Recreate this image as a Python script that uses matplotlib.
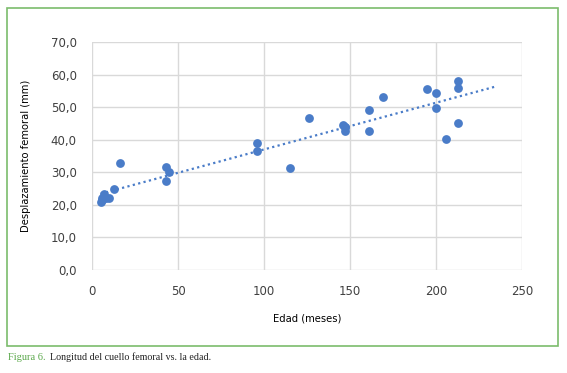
import matplotlib.pyplot as plt
import numpy as np
from matplotlib.patches import Rectangle
from matplotlib.ticker import FuncFormatter

# data
edad = [5, 6, 6, 7, 7, 8, 10, 13, 16, 43, 43, 45, 96, 96, 115, 126,
        146, 147, 147, 147, 161, 161, 169, 195, 200, 200, 206, 213, 213, 213]
desplazamiento = [21.0, 22.0, 21.5, 23.2, 22.5, 22.0, 22.0, 25.0, 33.0, 31.5, 27.2, 30.0,
                  39.0, 36.5, 31.2, 46.8, 44.6, 43.8, 42.6, 44.0, 49.0, 42.8, 53.2,
                  55.6, 54.3, 49.6, 40.1, 58.1, 56.0, 45.2]
x_ticks = [0, 50, 100, 150, 200, 250]
y_ticks = [0, 10, 20, 30, 40, 50, 60, 70]
trend_end = 234

blue = '#4a7cc8'
W, H = 567, 373
fig = plt.figure(figsize=(W/100, H/100), dpi=100)

# green frame round the chart
fig.patches.append(Rectangle((7/W, 1-346/H), 551/W, 338/H, transform=fig.transFigure,
                             fill=False, edgecolor='#7cbc6c', linewidth=1.2))

ax = fig.add_axes([92/W, 1-270/H, 430/W, 228/H])
ax.scatter(edad, desplazamiento, s=40, color=blue, zorder=3, linewidths=0)

# linear trendline, as Excel draws it
m, b = np.polyfit(edad, desplazamiento, 1)
xt = np.array([min(edad), trend_end])
ax.plot(xt, m*xt + b, linestyle=(0, (1, 1.5)), color=blue, linewidth=1.6, zorder=2)

ax.set_xlim(0, 250)
ax.set_ylim(0, 70)
ax.set_xticks(x_ticks)
ax.set_yticks(y_ticks)
ax.yaxis.set_major_formatter(FuncFormatter(lambda v, p: f'{v:.1f}'.replace('.', ',')))
ax.grid(True, color='#d9d9d9', linewidth=1)
ax.set_axisbelow(True)
for s in ax.spines.values():
    s.set_visible(False)
ax.tick_params(length=0, labelsize=8.5, colors='#404040')
ax.tick_params(axis='x', pad=11)
ax.tick_params(axis='y', pad=11)
ax.set_xlabel('Edad (meses)', fontsize=7.2, labelpad=11)
ax.set_ylabel('Desplazamiento femoral (mm)', fontsize=7.2, labelpad=14)

fig.text(8/W, 1-357/H, 'Figura 6.', family='Liberation Serif', fontsize=7.5,
         color='#5aa84a', va='center')
fig.text(50/W, 1-357/H, 'Longitud del cuello femoral vs. la edad.', family='Liberation Serif',
         fontsize=7.2, color='#202020', va='center')

fig.savefig('out.png', dpi=100)
